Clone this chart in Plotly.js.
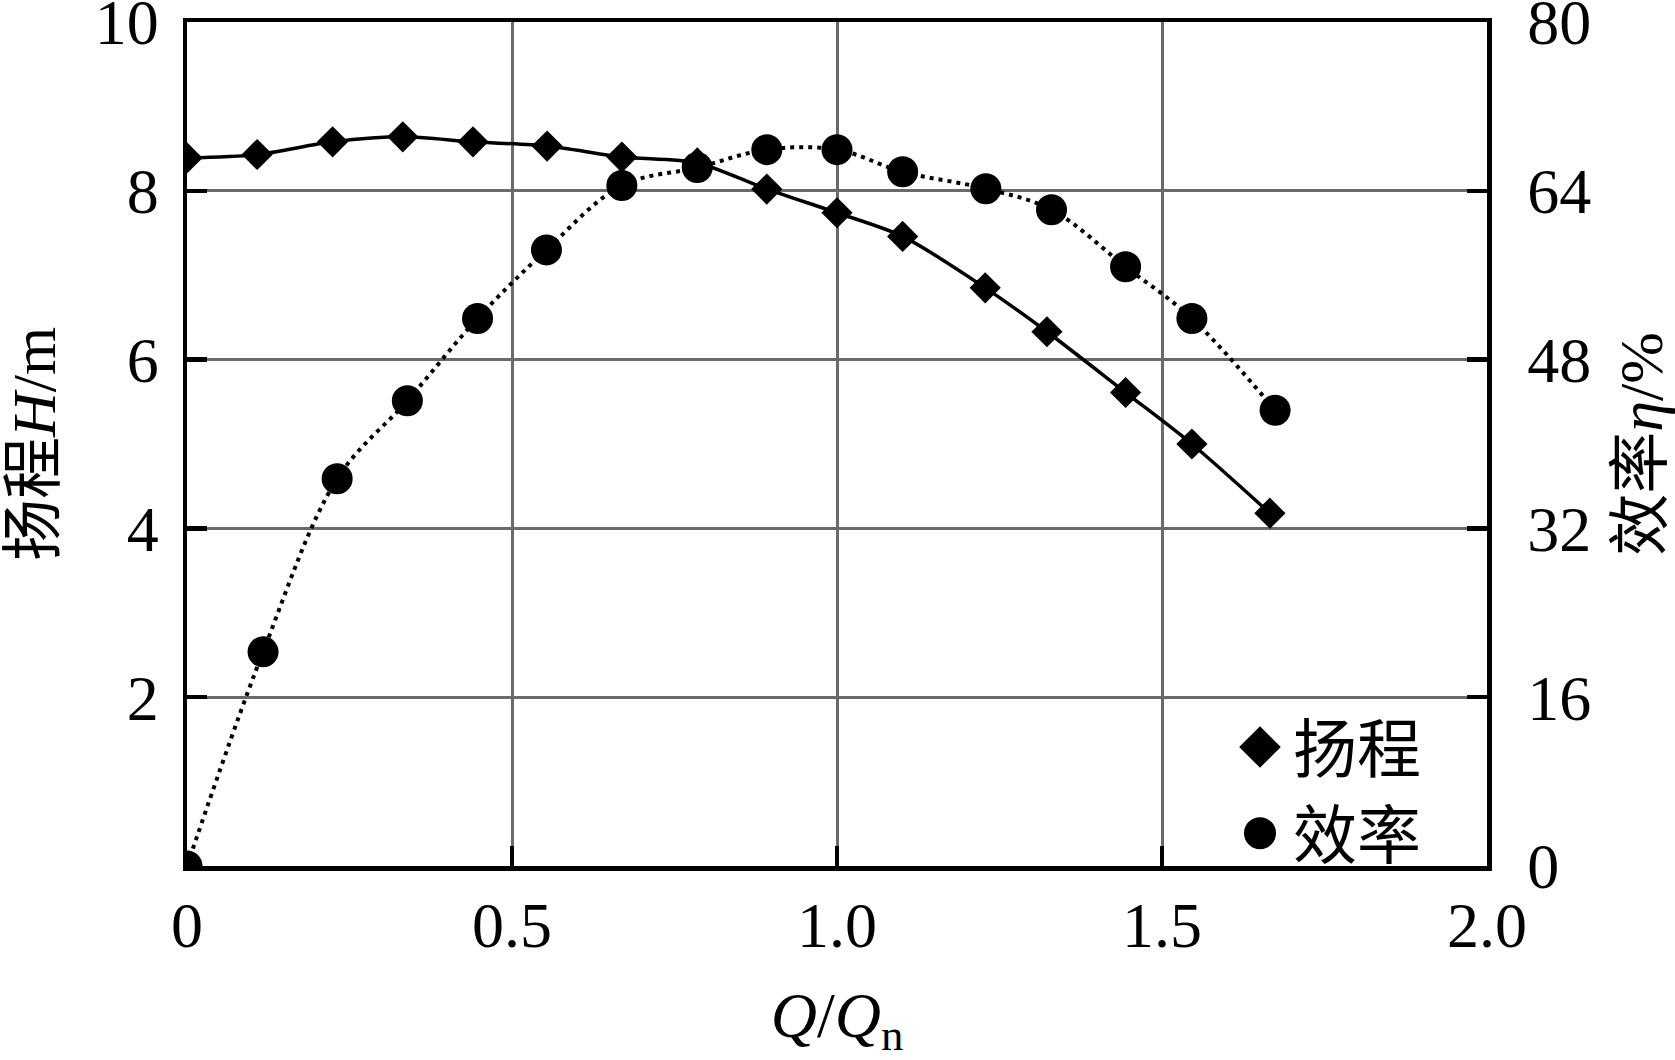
<!DOCTYPE html>
<html>
<head>
<meta charset="utf-8">
<script src="https://cdn.plot.ly/plotly-3.0.1.min.js"></script>
<style>html,body{margin:0;padding:0;background:#fff;}</style>
</head>
<body>
<div id="chart" style="width:1675px;height:1060px;"></div>
<script>
// Head data (扬程 H, m)
var headQ = [0, 0.108, 0.224, 0.332, 0.44, 0.554, 0.669, 0.785, 0.892, 1.0, 1.101, 1.228, 1.323, 1.444, 1.546, 1.666];
var headH = [8.39, 8.43, 8.58, 8.64, 8.58, 8.53, 8.40, 8.33, 8.02, 7.74, 7.46, 6.85, 6.33, 5.61, 5.00, 4.18];
// Efficiency data (效率 η, %)
var effQ = [0, 0.117, 0.231, 0.339, 0.447, 0.553, 0.669, 0.785, 0.892, 1.0, 1.101, 1.229, 1.330, 1.444, 1.546, 1.674];
var effE = [0, 20.3, 36.7, 44.1, 51.9, 58.4, 64.5, 66.2, 67.9, 67.9, 65.8, 64.2, 62.2, 56.8, 51.9, 43.2];
// Tick labels
var xTickVals = [0, 0.5, 1.0, 1.5, 2.0];
var xTickText = ['0', '0.5', '1.0', '1.5', '2.0'];
var yTickVals = [2, 4, 6, 8, 10];
var yTickText = ['2', '4', '6', '8', '10'];
var y2TickVals = [0, 16, 32, 48, 64, 80];
var y2TickText = ['0', '16', '32', '48', '64', '80'];
var legendNames = ['扬程', '效率'];

var FONT = 'Liberation Serif, "Noto Sans CJK SC", serif';

var traces = [
  {x: headQ, y: headH, mode: 'lines', line: {color: '#000', width: 3.5, shape: 'spline', smoothing: 0.8}, showlegend: false, hoverinfo: 'skip'},
  {x: headQ, y: headH, mode: 'markers', name: legendNames[0], marker: {symbol: 'diamond', size: 24, color: '#000'}},
  {x: effQ, y: effE, yaxis: 'y2', mode: 'lines', line: {color: '#000', width: 4, dash: '4px,5px', shape: 'spline'}, showlegend: false, hoverinfo: 'skip'},
  {x: effQ, y: effE, yaxis: 'y2', mode: 'markers', name: legendNames[1], marker: {symbol: 'circle', size: 31, color: '#000'}}
];

var layout = {
  width: 1675, height: 1060,
  margin: {l: 187, r: 188, t: 22, b: 194},
  paper_bgcolor: '#fff', plot_bgcolor: '#fff',
  font: {family: FONT, size: 64, color: '#000'},
  showlegend: true,
  legend: {x: 0.80, y: 0.198, xanchor: 'left', yanchor: 'top', bgcolor: 'rgba(0,0,0,0)',
           itemwidth: 56,
           font: {family: FONT, size: 64, color: '#000'}, tracegroupgap: 0},
  xaxis: {
    range: [0, 2], tickvals: xTickVals, ticktext: xTickText,
    showline: true, linecolor: '#000', linewidth: 4.5, mirror: true,
    ticks: 'inside', ticklen: 20, tickwidth: 4.5, tickcolor: '#000',
    showgrid: true, gridcolor: '#6a6a6a', gridwidth: 3, zeroline: false,
    ticklabelstandoff: 0, ticklabeloverflow: 'allow',
    tickfont: {family: FONT, size: 64},
    title: {text: '<i>Q</i>/<i>Q</i><sub>n</sub>', font: {family: FONT, size: 64}, standoff: 50}
  },
  yaxis: {
    range: [0, 10], tickvals: yTickVals, ticktext: yTickText,
    showline: true, linecolor: '#000', linewidth: 4.5, mirror: false,
    ticks: 'inside', ticklen: 20, tickwidth: 4.5, tickcolor: '#000',
    showgrid: true, gridcolor: '#6a6a6a', gridwidth: 3, zeroline: false,
    ticklabelstandoff: 11, ticklabeloverflow: 'allow',
    tickfont: {family: FONT, size: 64},
    title: {text: '扬程<i>H</i>/m', font: {family: FONT, size: 62}, standoff: 48}
  },
  yaxis2: {
    range: [0, 80], tickvals: y2TickVals, ticktext: y2TickText,
    overlaying: 'y', side: 'right',
    showline: true, linecolor: '#000', linewidth: 4.5,
    ticks: 'inside', ticklen: 20, tickwidth: 4.5, tickcolor: '#000',
    showgrid: false, zeroline: false,
    ticklabelstandoff: 23, ticklabeloverflow: 'allow',
    tickfont: {family: FONT, size: 64},
    title: {text: '效率<i>η</i>/%', font: {family: FONT, size: 62}, standoff: 48}
  }
};

Plotly.newPlot('chart', traces, layout, {displayModeBar: false, staticPlot: true}).then(function () {
  var pts = document.querySelectorAll('.legend .legendpoints path.scatterpts');
  pts.forEach(function (p) {
    var t = p.getAttribute('transform') || '';
    p.setAttribute('transform', t + ' scale(2)');
  });
});
</script>
</body>
</html>
